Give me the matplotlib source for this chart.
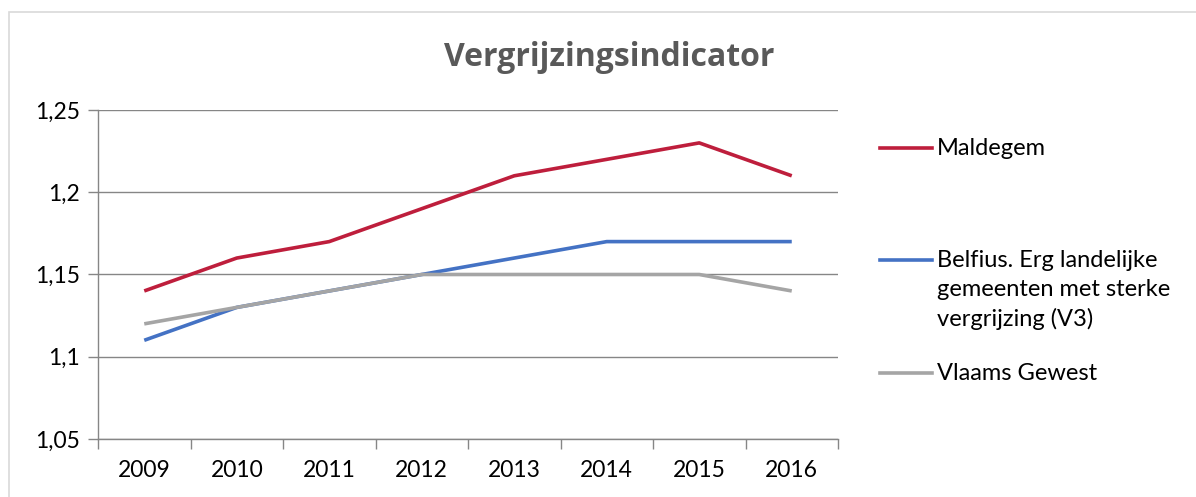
import matplotlib.pyplot as plt
from matplotlib.lines import Line2D
from matplotlib.patches import Rectangle

# gegevens
years = ['2009', '2010', '2011', '2012', '2013', '2014', '2015', '2016']
maldegem = [1.14, 1.16, 1.17, 1.19, 1.21, 1.22, 1.23, 1.21]
belfius = [1.11, 1.13, 1.14, 1.15, 1.16, 1.17, 1.17, 1.17]
vlaams = [1.12, 1.13, 1.14, 1.15, 1.15, 1.15, 1.15, 1.14]
y_ticks = [1.05, 1.1, 1.15, 1.2, 1.25]
y_labels = ['1,05', '1,1', '1,15', '1,2', '1,25']

series = [
    ('Maldegem', maldegem, '#BE1E3C'),
    ('Belfius. Erg landelijke\ngemeenten met sterke\nvergrijzing (V3)', belfius, '#4472C4'),
    ('Vlaams Gewest', vlaams, '#A5A5A5'),
]

W, H = 1196, 497
fig = plt.figure(figsize=(W / 100, H / 100), dpi=100)

# kader rond de grafiek
fig.add_artist(Rectangle((9 / W, -0.1), 1.2, 1 - 12 / H + 0.1, transform=fig.transFigure,
                         fill=False, edgecolor='#D9D9D9', linewidth=1.2))

ax = fig.add_axes([98 / W, 1 - 439 / H, 740 / W, 329 / H])
x = list(range(len(years)))
for name, vals, col in series:
    ax.plot(x, vals, color=col, linewidth=2.6, solid_capstyle='butt')

ax.set_xlim(-0.5, len(years) - 0.5)
ax.set_ylim(1.05, 1.25)
ax.set_yticks(y_ticks)
ax.set_yticklabels(y_labels)
ax.set_xticks(x)
ax.set_xticklabels(years)
ax.set_xticks([i - 0.5 for i in range(len(years) + 1)], minor=True)
ax.tick_params(axis='x', which='major', length=0, pad=15)
ax.tick_params(axis='x', which='minor', length=7, color='#868686', width=1)
ax.tick_params(axis='y', length=7, color='#868686', width=1, pad=6)
for lab in ax.get_xticklabels() + ax.get_yticklabels():
    lab.set_fontfamily('Lato')
    lab.set_fontsize(16.5)
    lab.set_color('#000000')

ax.grid(axis='y', color='#868686', linewidth=1)
ax.set_axisbelow(True)
for s in ['top', 'right']:
    ax.spines[s].set_visible(False)
for s in ['left', 'bottom']:
    ax.spines[s].set_color('#868686')
    ax.spines[s].set_linewidth(1)

fig.text(609 / W, 1 - 57 / H, 'Vergrijzingsindicator', ha='center', va='center',
         fontsize=23, fontweight='bold', color='#595959', family='Open Sans')

# legende
legend_y = [148, 260, 373]
for (name, vals, col), ly in zip(series, legend_y):
    yy = 1 - ly / H
    fig.add_artist(Line2D([880 / W, 932 / W], [yy, yy], transform=fig.transFigure,
                          color=col, linewidth=2.6))
    fig.text(937 / W, yy + 10 / H, name, ha='left', va='top', fontsize=17,
             family='Lato', linespacing=1.45)

plt.savefig('out.png', dpi=100)
